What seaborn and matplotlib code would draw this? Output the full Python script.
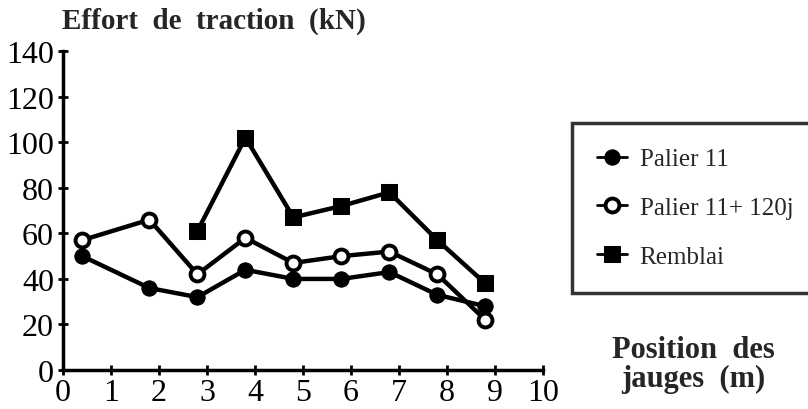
import matplotlib
matplotlib.use("Agg")
import matplotlib.pyplot as plt
import seaborn as sns

# Gauge positions (m) and traction forces (kN)
positions = [0.4, 1.8, 2.8, 3.8, 4.8, 5.8, 6.8, 7.8, 8.8]
palier_11 = [50, 36, 32, 44, 40, 40, 43, 33, 28]
palier_11_120j = [57, 66, 42, 58, 47, 50, 52, 42, 22]
remblai_positions = [2.8, 3.8, 4.8, 5.8, 6.8, 7.8, 8.8]
remblai = [61, 102, 67, 72, 78, 57, 38]

sns.set_style("ticks")
plt.rcParams["font.family"] = ["Liberation Serif", "DejaVu Serif"]

fig = plt.figure(figsize=(8.08, 4.10), dpi=100)
ax = fig.add_axes([0.078, 0.095, 0.594, 0.778])

sns.lineplot(x=positions, y=palier_11, ax=ax, color="black", lw=3.2,
             marker="o", markersize=11, markerfacecolor="black",
             markeredgecolor="black", label="Palier 11")
sns.lineplot(x=positions, y=palier_11_120j, ax=ax, color="black", lw=3.2,
             marker="o", markersize=10, markerfacecolor="white",
             markeredgecolor="black", markeredgewidth=2.8, label="Palier 11+ 120j")
sns.lineplot(x=remblai_positions, y=remblai, ax=ax, color="black", lw=3.2,
             marker="s", markersize=11, markerfacecolor="black",
             markeredgecolor="black", label="Remblai")

ax.set_xlim(0, 10)
ax.set_ylim(0, 140)
ax.set_xticks(range(0, 11))
ax.set_yticks(range(0, 141, 20))
sns.despine(ax=ax)
for side in ["left", "bottom"]:
    ax.spines[side].set_linewidth(2.5)
    ax.spines[side].set_color("black")
ax.tick_params(direction="inout", length=7, width=2, labelsize=23, colors="black", pad=3)
ax.tick_params(axis="x", pad=2)
ax.set_xlabel("")
ax.set_ylabel("")

fig.text(0.077, 0.947, "Effort  de  traction  (kN)", fontsize=21, fontweight="bold",
         ha="left", va="center")
fig.text(0.858, 0.11, "Position  des\njauges  (m)", fontsize=22, fontweight="bold",
         ha="center", va="center", linespacing=1.0)

leg = ax.legend(loc="upper left", bbox_to_anchor=(0.708, 0.0, 0.33, 0.698),
                bbox_transform=fig.transFigure, mode="expand", fontsize=18,
                frameon=True, fancybox=False, edgecolor="black", handlelength=1.2,
                handletextpad=0.5, labelspacing=1.05, borderpad=1.0, borderaxespad=0)
leg.get_frame().set_linewidth(2.5)
for line in leg.get_lines():
    line.set_linewidth(2)

fig.savefig("out.png", dpi=100)
